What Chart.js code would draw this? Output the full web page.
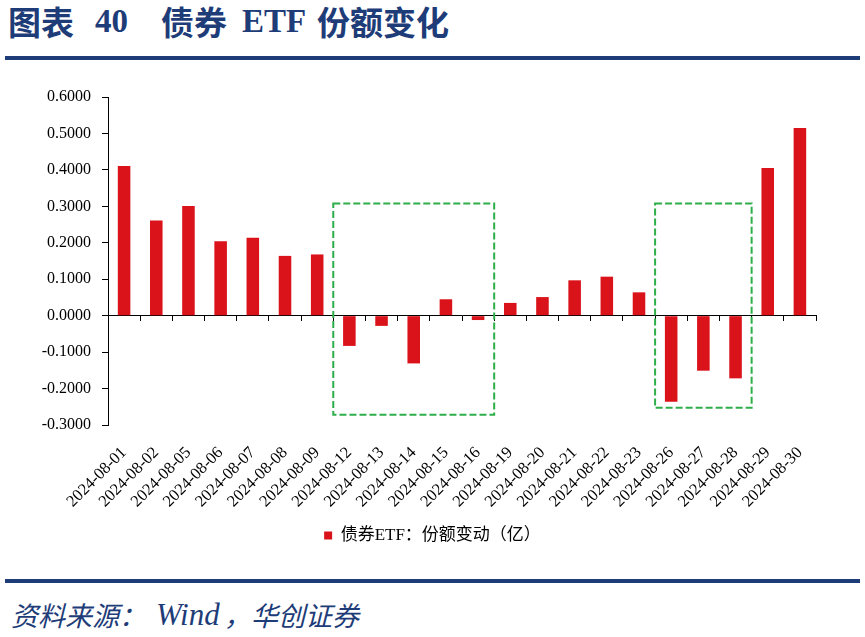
<!DOCTYPE html>
<html>
<head>
<meta charset="utf-8">
<script src="https://cdn.jsdelivr.net/npm/chart.js@4.4.0/dist/chart.umd.min.js"></script>
<style>
    body { margin: 0; width: 865px; height: 637px; background: #fff; position: relative; overflow: hidden; }
    .blue { position: absolute; color: #1E3C78; white-space: nowrap; }
    .title span { position: absolute; top: 0; font-weight: bold; font-size: 33px; line-height: 40px; }
    .cjk { font-family: 'Noto Sans CJK SC', sans-serif; }
    .lat { font-family: 'Liberation Serif', 'Times New Roman', serif; }
    .rule { position: absolute; left: 5px; width: 855px; height: 4px; background: #1E3C78; }
    .source span { position: absolute; top: 0; font-style: italic; font-size: 27px; line-height: 34px; }
    #wrap { position: absolute; left: 0; top: 62px; width: 865px; height: 492px; }
</style>
</head>
<body>
<div class="blue title" style="left:0;top:1px;">
    <span class="cjk" style="left:8px;">图表</span>
    <span class="lat" style="left:95px;">40</span>
    <span class="cjk" style="left:161px;">债券</span>
    <span class="lat" style="left:242px;">ETF</span>
    <span class="cjk" style="left:317px;">份额变化</span>
</div>
<div class="rule" style="top:56px;"></div>

<div id="wrap"><canvas id="chart" width="865" height="492"></canvas></div>

<div class="rule" style="top:579px;"></div>
<div class="blue source" style="left:0;top:598px;">
    <span class="cjk" style="left:11px;">资料来源：</span>
    <span class="lat" style="left:156px;font-size:31px;">Wind</span>
    <span class="cjk" style="left:224px;">，</span>
    <span class="cjk" style="left:251px;">华创证券</span>
</div>

<script>
// Dates on the category axis
const dates = [
    '2024-08-01', '2024-08-02', '2024-08-05', '2024-08-06', '2024-08-07', '2024-08-08',
    '2024-08-09', '2024-08-12', '2024-08-13', '2024-08-14', '2024-08-15', '2024-08-16',
    '2024-08-19', '2024-08-20', '2024-08-21', '2024-08-22', '2024-08-23', '2024-08-26',
    '2024-08-27', '2024-08-28', '2024-08-29', '2024-08-30'
];

// 债券ETF 份额变动（亿）
const shareChange = [
    0.411, 0.261, 0.301, 0.204, 0.214, 0.164,
    0.168, -0.083, -0.028, -0.131, 0.045, -0.012,
    0.035, 0.051, 0.097, 0.107, 0.064, -0.236,
    -0.151, -0.172, 0.405, 0.515
];

// y axis range
const yMin = -0.3;
const yMax = 0.6;
const yStep = 0.1;

// dashed highlight boxes (first date, last date, top value, bottom value)
const boxFrom = ['2024-08-12', '2024-08-26'];
const boxTo = ['2024-08-16', '2024-08-28'];
const boxTop = [0.308, 0.308];
const boxBottom = [-0.272, -0.253];

const serif = "'Liberation Serif', 'Times New Roman', 'Noto Sans CJK SC', serif";

const highlightBoxes = {
    id: 'highlightBoxes',
    afterDatasetsDraw(chart) {
        const { ctx, scales: { x, y } } = chart;
        ctx.save();
        ctx.strokeStyle = '#2EAE48';
        ctx.lineWidth = 2;
        ctx.setLineDash([7, 3]);
        boxFrom.forEach((from, i) => {
            const x0 = x.getPixelForValue(dates.indexOf(from) - 0.5);
            const x1 = x.getPixelForValue(dates.indexOf(boxTo[i]) + 0.5);
            const y0 = y.getPixelForValue(boxTop[i]);
            const y1 = y.getPixelForValue(boxBottom[i]);
            ctx.strokeRect(x0, y0, x1 - x0, y1 - y0);
        });
        ctx.restore();
    }
};

new Chart(document.getElementById('chart'), {
    type: 'bar',
    data: {
        labels: dates,
        datasets: [{
            label: '债券ETF：份额变动（亿）',
            data: shareChange,
            backgroundColor: '#DA121A',
            borderWidth: 0,
            categoryPercentage: 1,
            barPercentage: 0.39
        }]
    },
    options: {
        responsive: false,
        animation: false,
        layout: { padding: { top: 35, right: 0, left: 0, bottom: 0 } },
        plugins: {
            tooltip: { enabled: false },
            legend: {
                position: 'bottom',
                labels: {
                    boxWidth: 8,
                    boxHeight: 8,
                    color: '#000',
                    padding: 10,
                    font: { family: serif, size: 17 }
                }
            }
        },
        scales: {
            x: {
                grid: { display: false, drawTicks: false },
                border: { display: false },
                ticks: {
                    color: '#000',
                    font: { family: serif, size: 16.5 },
                    minRotation: 45,
                    maxRotation: 45,
                    autoSkip: false,
                    padding: 18
                },
                afterFit(scale) { scale.height = 92; }
            },
            x0: {
                type: 'category',
                position: { y: 0 },
                offset: true,
                grid: { offset: true, drawOnChartArea: false, tickLength: 5, color: '#000' },
                border: { color: '#000' },
                ticks: { display: false }
            },
            y: {
                min: yMin,
                max: yMax,
                ticks: {
                    stepSize: yStep,
                    color: '#000',
                    padding: 11,
                    font: { family: serif, size: 16 },
                    callback: v => (Math.abs(v) < 1e-9 ? 0 : v).toFixed(4)
                },
                grid: { drawOnChartArea: false, tickLength: 6, color: '#000' },
                border: { color: '#000' },
                afterFit(scale) { scale.width = 108; }
            },
            // empty right-hand spacer so the plot ends where the reference does
            // while the legend stays centred on the whole page
            ySpacer: {
                position: 'right',
                min: yMin,
                max: yMax,
                ticks: { display: false },
                grid: { display: false },
                border: { display: false },
                afterFit(scale) { scale.width = 49; }
            }
        }
    },
    plugins: [highlightBoxes]
});
</script>
</body>
</html>
